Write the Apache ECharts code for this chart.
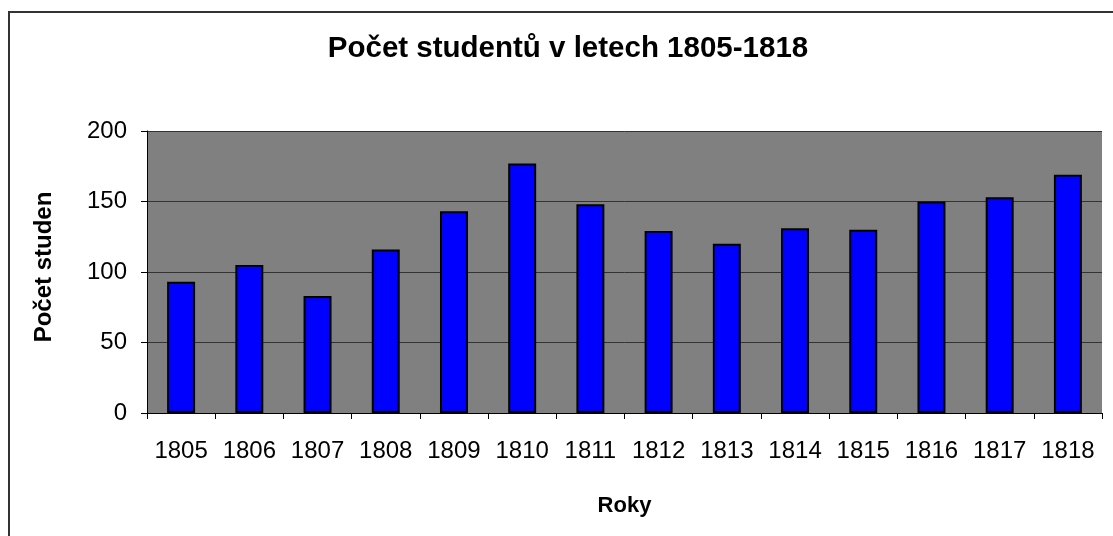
<!DOCTYPE html>
<html>
<head>
<meta charset="utf-8">
<script src="https://cdn.jsdelivr.net/npm/echarts@6/dist/echarts.min.js"></script>
<style>
html,body{margin:0;padding:0;background:#fff;}
#chart{width:1113px;height:536px;}
</style>
</head>
<body>
<div id="chart"></div>
<script>
const years = ['1805','1806','1807','1808','1809','1810','1811','1812','1813','1814','1815','1816','1817','1818'];
const students = [93,105,83,116,143,177,148,129,120,131,130,150,153,169];
const yTicks = {min: 0, max: 200, interval: 50};
const titleText = 'Počet studentů v letech 1805-1818';
const xName = 'Roky';
const yName = 'Počet studen';

const FONT = '"Liberation Sans", Arial, sans-serif';
const chart = echarts.init(document.getElementById('chart'), null, {renderer: 'canvas'});
chart.setOption({
  animation: false,
  backgroundColor: '#ffffff',
  graphic: [{
    type: 'rect', z: -1, silent: true,
    shape: {x: 9, y: 12, width: 1120, height: 540},
    style: {fill: 'none', stroke: '#333333', lineWidth: 2}
  }],
  title: {
    text: titleText, left: 563, top: 29, textAlign: 'center',
    textStyle: {fontFamily: FONT, fontSize: 29.5, fontWeight: 'bold', color: '#000'}
  },
  grid: {left: 147, right: 11, top: 131, bottom: 123, show: true, backgroundColor: '#808080', borderWidth: 0},
  xAxis: {
    type: 'category', data: years,
    name: xName, nameLocation: 'middle', nameGap: 82,
    nameTextStyle: {fontFamily: FONT, fontSize: 22, fontWeight: 'bold', color: '#000'},
    axisLine: {lineStyle: {color: '#000', width: 1}},
    axisTick: {show: true, alignWithLabel: false, length: 6, lineStyle: {color: '#000'}},
    axisLabel: {fontFamily: FONT, fontSize: 24, color: '#000', margin: 26, interval: 0}
  },
  yAxis: {
    type: 'value', min: yTicks.min, max: yTicks.max, interval: yTicks.interval,
    name: yName, nameLocation: 'middle', nameGap: 91, nameRotate: 90,
    nameTextStyle: {fontFamily: FONT, fontSize: 24, fontWeight: 'bold', color: '#000', padding: [0, 0, 0, 10]},
    axisLine: {show: true, lineStyle: {color: '#000', width: 1}},
    axisTick: {show: true, length: 6, lineStyle: {color: '#000'}},
    axisLabel: {fontFamily: FONT, fontSize: 24, color: '#000', margin: 20},
    splitLine: {show: true, lineStyle: {color: '#333333', width: 1}}
  },
  series: [{
    type: 'bar', data: students, barWidth: '41%',
    itemStyle: {color: '#0000ff', borderColor: '#000', borderWidth: 2}
  }]
});
</script>
</body>
</html>
